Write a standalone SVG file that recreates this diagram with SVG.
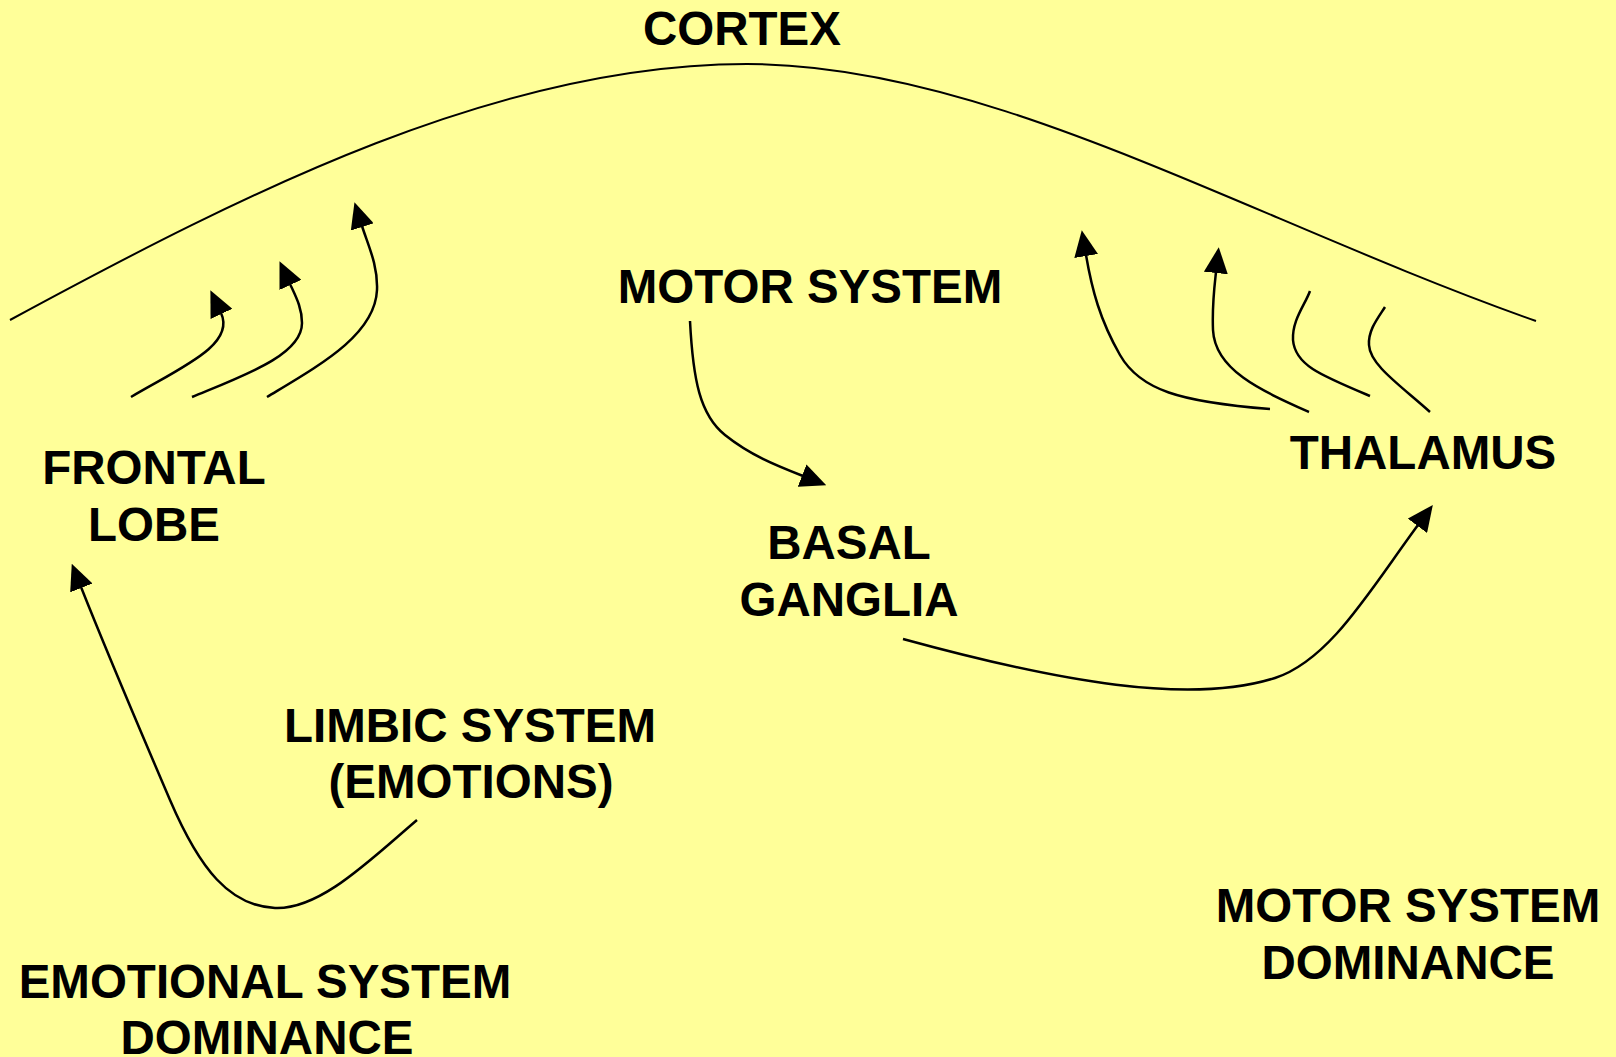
<svg xmlns="http://www.w3.org/2000/svg" width="1616" height="1057" viewBox="0 0 1616 1057">
<style>
.lbl{font-family:"Liberation Sans",Arial,sans-serif;font-weight:bold;font-size:47.5px;fill:#000;text-anchor:middle}
.c{fill:none;stroke:#000;stroke-width:2.5;stroke-linecap:butt}
.arr{marker-end:url(#ah)}
</style>
<defs>
<marker id="ah" viewBox="0 0 26 24" refX="1" refY="12" markerWidth="26" markerHeight="24" markerUnits="userSpaceOnUse" orient="auto">
<path d="M0,0 L26,12 L0,24 z" fill="#000"/>
</marker>
</defs>
<rect width="1616" height="1057" fill="#FFFF99"/>
<g id="connectors">
<path id="cortex-line" class="c" style="stroke-width:2" d="M10,320 C250,190 500,64 747,64 C990,64 1250,220 1536,321"/>
<path class="c arr" d="M131,397 C180,368 236,345 221,313"/>
<path class="c arr" d="M192,397 C245,375 302,355 302,323 C302,308 296,297 290,284"/>
<path class="c arr" d="M267,397 C320,365 375,335 377,290 C378,265 368,245 362,226"/>
<path class="c arr" d="M1270,409 C1180,402 1140,390 1120,355 C1100,320 1092,290 1086,255"/>
<path class="c arr" d="M1309,412 C1260,390 1215,370 1213,330 C1212,305 1214,290 1216,272"/>
<path class="c" d="M1370,396 C1320,375 1295,365 1293,340 C1292,320 1305,305 1310,291"/>
<path class="c" d="M1430,412 C1400,385 1370,365 1369,345 C1368,330 1378,318 1385,307"/>
<path class="c arr" d="M690,321 C693,380 700,415 725,435 C750,455 775,465 803,476"/>
<path class="c arr" d="M417,820 C370,860 320,910 275,908 C230,906 200,870 170,800 C140,730 110,660 81,587"/>
<path class="c arr" d="M903,639 C1060,682 1190,705 1275,678 C1330,660 1370,590 1418,525"/>
</g>
<g id="cortex"><text class="lbl" x="742" y="45">CORTEX</text></g>
<g id="motor-system"><text class="lbl" x="810" y="303">MOTOR SYSTEM</text></g>
<g id="frontal-lobe"><text class="lbl" x="154" y="484">FRONTAL</text><text class="lbl" x="154" y="541">LOBE</text></g>
<g id="thalamus"><text class="lbl" x="1423" y="469">THALAMUS</text></g>
<g id="basal-ganglia"><text class="lbl" x="849" y="559">BASAL</text><text class="lbl" x="849" y="616">GANGLIA</text></g>
<g id="limbic-system"><text class="lbl" x="470" y="742">LIMBIC SYSTEM</text><text class="lbl" x="471" y="798">(EMOTIONS)</text></g>
<g id="motor-dominance"><text class="lbl" x="1408" y="922">MOTOR SYSTEM</text><text class="lbl" x="1408" y="979">DOMINANCE</text></g>
<g id="emotional-dominance"><text class="lbl" x="265" y="998">EMOTIONAL SYSTEM</text><text class="lbl" x="267" y="1054">DOMINANCE</text></g>
</svg>
